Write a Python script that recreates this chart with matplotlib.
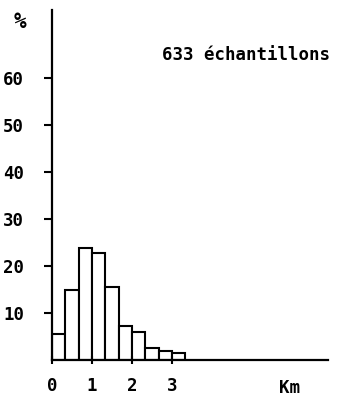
import numpy as np
import matplotlib.pyplot as plt

# distance classes (km), width 1/3 km
bin_left = [0, 1/3, 2/3, 1, 4/3, 5/3, 2, 7/3, 8/3, 3]
pct = [5.6, 14.8, 23.8, 22.8, 15.6, 7.2, 6.0, 2.6, 1.9, 1.4]
bin_width = 1/3

yticks = [10, 20, 30, 40, 50, 60]
xticks = [0, 1, 2, 3]
n_samples = 633

fig = plt.figure(figsize=(3.37, 3.98), dpi=100)
ax = fig.add_axes([0.154, 0.0955, 0.819, 0.879])

ax.bar(bin_left, pct, width=bin_width, align="edge",
       color="white", edgecolor="black", linewidth=1.5)

ax.set_xlim(0, 6.9)
ax.set_ylim(0, 74.5)

for s in ["top", "right"]:
    ax.spines[s].set_visible(False)
for s in ["left", "bottom"]:
    ax.spines[s].set_linewidth(1.6)

font = dict(family="DejaVu Sans Mono", weight="bold", size=12.5)

ax.set_yticks(yticks)
ax.set_yticklabels([str(v) for v in yticks], **font)
ax.tick_params(axis="y", direction="out", length=6, width=1.5, pad=14)
ax.set_xticks(xticks)
ax.set_xticklabels([str(v) for v in xticks], **font)
ax.tick_params(axis="x", direction="inout", length=6, width=1.5, pad=9)

ax.text(-0.8, 72, "%", ha="center", va="center",
        family="DejaVu Sans Mono", weight="bold", size=15)
ax.text(6.95, 65, f"{n_samples} échantillons", ha="right", va="center", **font)
ax.text(5.95, -6, "Km", ha="center", va="center", **font)

fig.savefig("out.png", dpi=100)
